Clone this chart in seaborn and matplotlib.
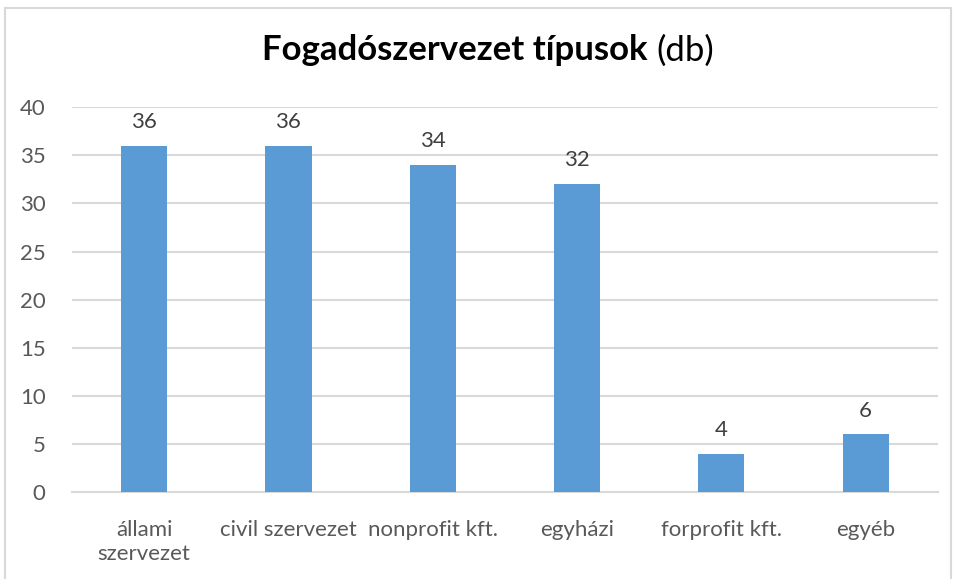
import matplotlib
matplotlib.use("Agg")
import matplotlib.pyplot as plt
import seaborn as sns
import pandas as pd
from matplotlib.patches import Rectangle

# chart data
categories = ["állami\nszervezet", "civil szervezet", "nonprofit kft.", "egyházi", "forprofit kft.", "egyéb"]
counts = [36, 36, 34, 32, 4, 6]
y_ticks = [0, 5, 10, 15, 20, 25, 30, 35, 40]

BAR_COLOR = "#5B9BD5"
GRID_COLOR = "#D9D9D9"
TEXT_COLOR = "#595959"

sns.set_theme(style="white")
plt.rcParams["font.family"] = ["Lato", "DejaVu Sans"]

df = pd.DataFrame({"kategoria": categories, "db": counts})

fig = plt.figure(figsize=(9.56, 5.79), dpi=100)
ax = fig.add_axes([0.0753, 0.150, 0.9057, 0.665])

sns.barplot(data=df, x="kategoria", y="db", color=BAR_COLOR, width=0.32,
            saturation=1, ax=ax, zorder=3, linewidth=0)

ax.set_ylim(0, 40)
ax.set_xlim(-0.5, len(categories) - 0.5)
ax.set_yticks(y_ticks)
ax.yaxis.grid(True, color=GRID_COLOR, linewidth=1.5, zorder=0)
ax.set_axisbelow(True)
for side in ["top", "right", "left"]:
    ax.spines[side].set_visible(False)
ax.spines["bottom"].set_color(GRID_COLOR)
ax.spines["bottom"].set_linewidth(1.5)
ax.tick_params(axis="both", length=0, labelsize=16, colors=TEXT_COLOR)
ax.tick_params(axis="x", pad=20)
ax.tick_params(axis="y", pad=19)
for lbl in ax.get_xticklabels():
    lbl.set_linespacing(1.25)
ax.set_xlabel("")
ax.set_ylabel("")

for cont in ax.containers:
    ax.bar_label(cont, fmt="%d", padding=10, fontsize=16, color="#404040")

# title: bold part + normal part, centred together
t1 = fig.text(0.5, 0.913, "Fogadószervezet típusok ", fontsize=25, fontweight="bold",
              ha="right", va="center", color="black")
t2 = fig.text(0.5, 0.913, "(db)", fontsize=25, ha="left", va="center", color="black")
fig.canvas.draw()
w = fig.bbox.width
bw1 = t1.get_window_extent().width
bw2 = t2.get_window_extent().width
start = 488 / w - (bw1 + bw2) / 2 / w
t1.set_x(start + bw1 / w)
t2.set_x(start + bw1 / w)

# outer chart border
fig.patches.append(Rectangle((5 / 956, -0.01), 946 / 956, 1 - 8 / 579 + 0.01,
                             transform=fig.transFigure, fill=False,
                             edgecolor="#D9D9D9", linewidth=1.5))

fig.savefig("out.png", dpi=100)
